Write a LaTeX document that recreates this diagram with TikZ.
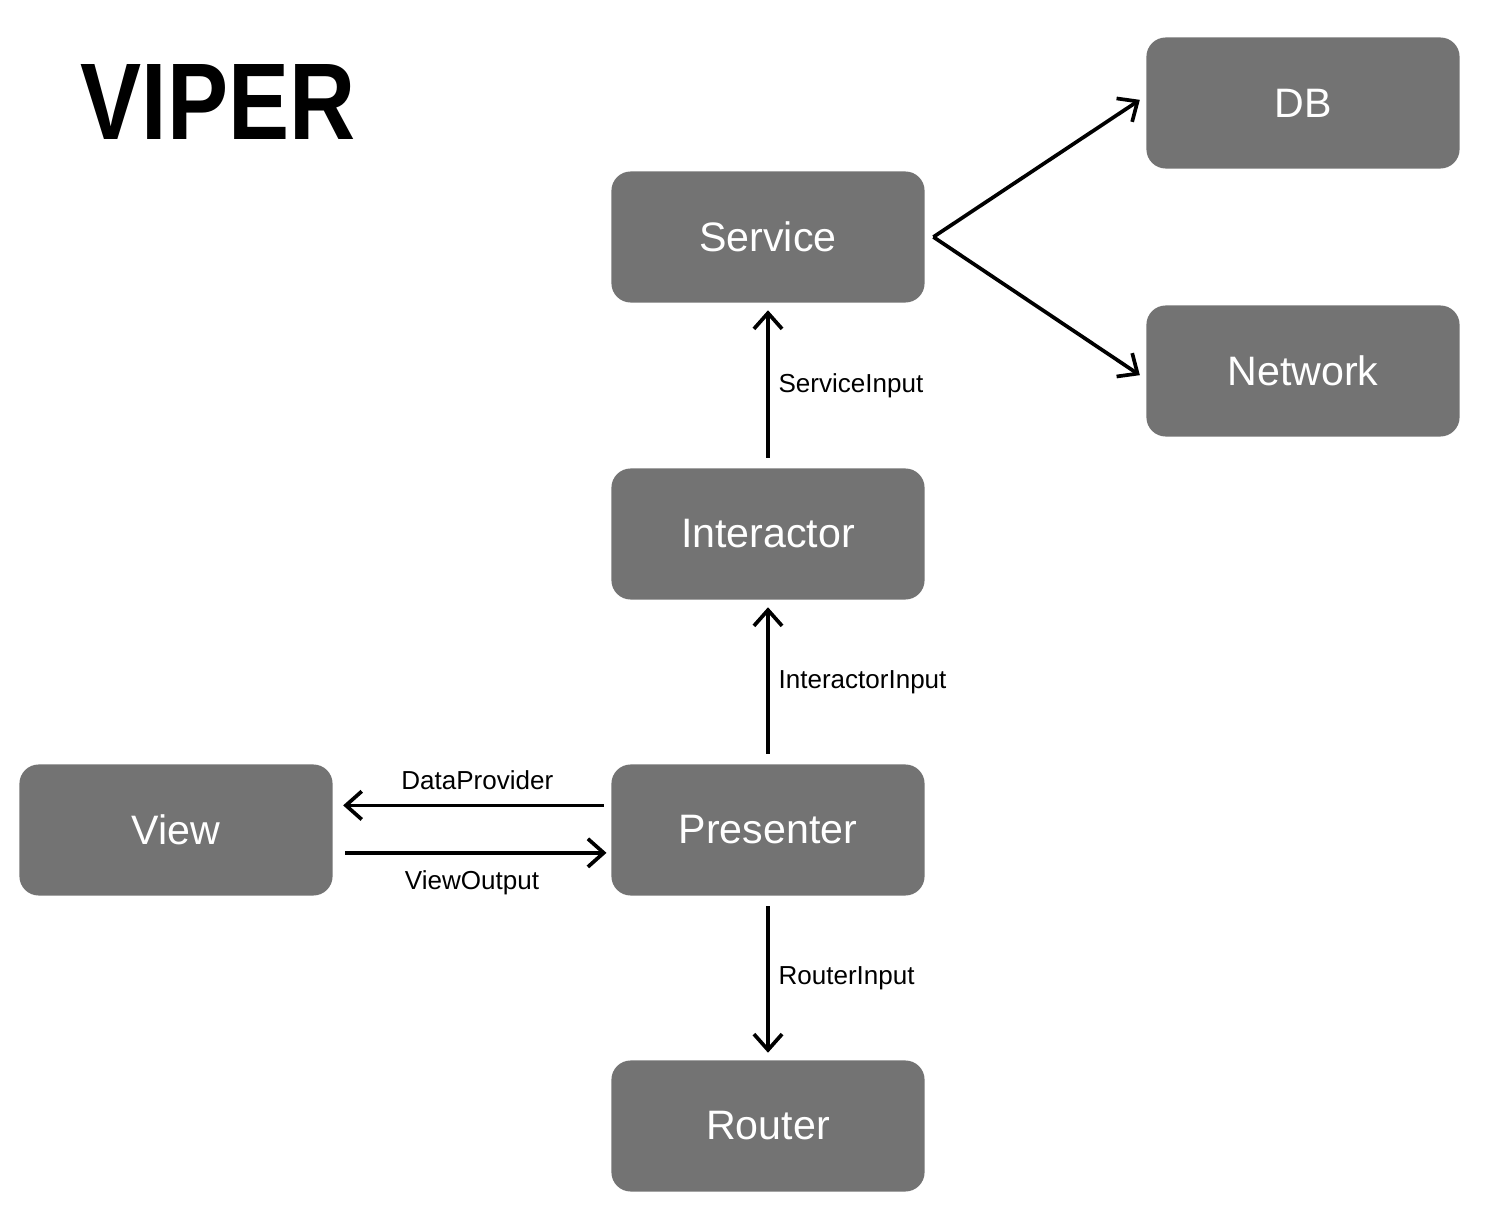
\documentclass[tikz,border=0pt]{standalone}
\usepackage{fontspec}
\setmainfont{Liberation Sans}
\newfontfamily\titlefont[FakeStretch=0.84]{Liberation Sans}
\usetikzlibrary{arrows.meta}
\tikzset{
	block/.style={fill=black!55, rounded corners=5.5pt, text=white, minimum width=3.13cm, minimum height=1.31cm, font=\fontsize{11.7}{14}\selectfont},
	link/.style={line width=1.05pt, -{Straight Barb[length=4.5pt, width=8pt, line width=1.05pt]}},
	tag/.style={font=\fontsize{7.4}{9}\selectfont, inner sep=0pt}
}

\begin{document}
\begin{tikzpicture}[x=0.01cm, y=-0.01cm]
			%%%%% START %%%%%
			
			\useasboundingbox (0, 0) rectangle (1490, 1216);
			
			\node[anchor=base west, inner sep=0pt, font=\fontsize{31}{36}\titlefont\bfseries] (title) at (80, 140) {VIPER};
			
			\node[block] (db) at (1303, 103) {DB};
			\node[block] (service) at (768, 237) {Service};
			\node[block] (network) at (1303, 371) {Network};
			\node[block] (interactor) at (768, 534) {Interactor};
			\node[block] (view) at (176, 830) {View};
			\node[block] (presenter) at (768, 830) {Presenter};
			\node[block] (router) at (768, 1126) {Router};
			
			\coordinate (fork) at ([xshift=2.3pt]service.east);
			\draw[link, shorten >=2pt] (fork) -- ([yshift=2pt]db.west);
			\draw[link, shorten >=2pt] (fork) -- ([yshift=-2.3pt]network.west);
			
			\draw[link, shorten <=2.8pt, shorten >=2pt] (interactor) -- (service) node[tag, midway, right, xshift=2.5pt] {ServiceInput};
			\draw[link, shorten <=2.8pt, shorten >=2pt] (presenter) -- (interactor) node[tag, midway, right, xshift=2.5pt] {InteractorInput};
			\draw[link, shorten <=2.8pt, shorten >=2pt] (presenter) -- (router) node[tag, midway, right, xshift=2.5pt] {RouterInput};
			
			\draw[link, shorten <=2pt, shorten >=2.8pt] ([yshift=7pt]presenter.west) -- ([yshift=7pt]view.east) node[tag, midway, above, yshift=4pt, xshift=1.5pt] {DataProvider};
			\draw[link, shorten <=3.4pt, shorten >=1.2pt] ([yshift=-6.5pt]view.east) -- ([yshift=-6.5pt]presenter.west) node[tag, midway, below, yshift=-4.5pt] {ViewOutput};
			
			%%%%% END %%%%%
\end{tikzpicture}
\end{document}
